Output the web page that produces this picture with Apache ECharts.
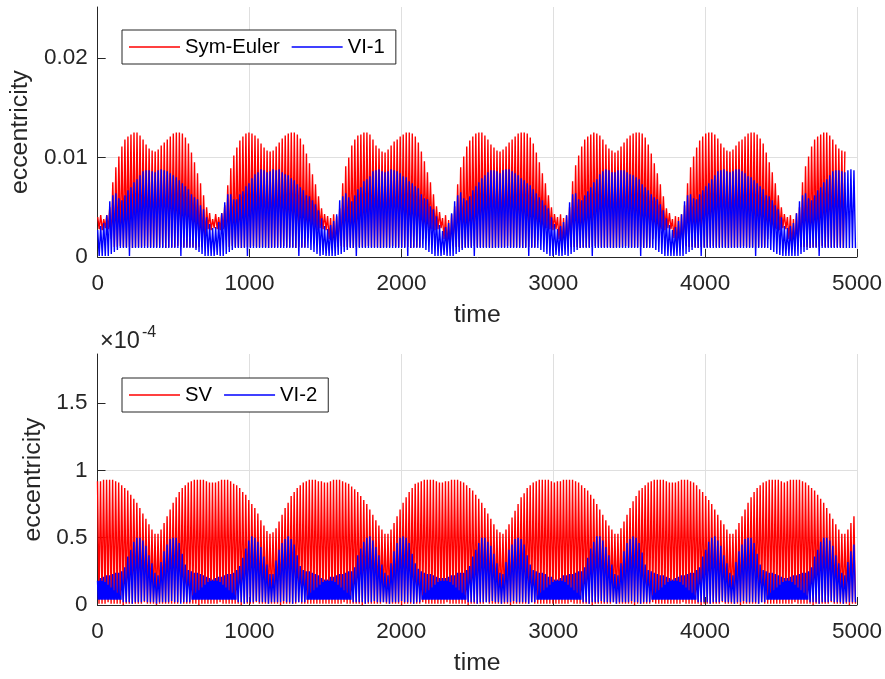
<!DOCTYPE html>
<html>
<head>
<meta charset="utf-8">
<script src="https://cdn.jsdelivr.net/npm/echarts@6/dist/echarts.min.js"></script>
<style>html,body{margin:0;padding:0;background:#fff}#c{width:885px;height:679px}</style>
</head>
<body>
<div id="c"></div>
<script>
// ---- data ----
// top panel, units of 1e-4 (eccentricity), one value per oscillation
const symEulerPeaks = [
40,42,38,42,50,75,90,101,111,118,121,123,125,125,122,118,113,109,107,106,108,112,115,118,121,124,125,125,124,120,114,105,95,84,74,62,50,44,
38,43,40,44,52,72,89,102,110,117,121,124,125,124,122,119,114,110,107,106,107,111,115,119,122,124,125,125,123,119,113,104,94,83,73,61,49,43,
41,39,43,41,49,74,91,100,112,118,122,123,125,125,123,118,112,109,106,105,108,112,116,118,121,123,125,125,124,121,115,106,96,85,75,63,51,45,
39,42,37,43,51,73,90,101,111,117,121,124,125,125,122,118,113,110,107,106,108,111,115,118,121,124,125,125,124,120,114,105,95,84,74,62,50,43,
40,43,39,42,50,76,92,102,111,118,121,123,125,124,122,118,113,109,107,105,107,111,115,119,122,124,125,125,124,120,113,104,94,84,73,61,49,44,
38,41,40,43,52,74,90,101,110,117,121,124,125,125,123,119,114,110,107,106,108,112,116,118,121,124,125,125,123,119,114,105,95,85,74,62,50,43,
40,42,38,44,50,75,91,101,111,118,121,123,125,125,122,118,113,109,107,106,108,112,115];
const symEulerTroughs = [
28,27,29,28,18,10,10,11,10,10,10,9,10,10,10,11,10,10,10,10,10,10,9,10,10,10,11,10,10,10,10,10,9,10,10,18,28,27,
29,28,27,28,17,10,11,10,10,9,10,10,10,11,10,10,10,10,9,10,10,10,10,11,10,10,10,9,10,10,10,19,27,28,
27,29,28,27,18,10,10,10,11,10,10,10,9,10,10,10,10,11,10,10,10,9,10,10,10,11,10,10,10,10,10,9,10,10,10,18,28,29,
28,27,28,29,18,10,10,11,10,10,9,10,10,10,11,10,10,10,10,10,9,10,10,10,10,11,10,10,10,10,9,10,10,10,10,17,28,27,
29,28,27,28,18,11,10,10,10,10,10,9,10,10,10,10,11,10,10,10,10,10,9,10,10,10,11,10,10,10,10,10,9,10,10,18,27,28,
28,27,29,28,19,10,10,10,11,10,10,10,9,10,10,10,10,11,10,10,10,10,9,10,10,10,10,11,10,10,10,9,10,10,10,18,28,27,
28,27,29,28,18,10,10,11,10,10,10,9,10,10,10,11,10,10,10,10,10,10,9];
const vi1Peaks = [
27,31,34,42,56,62,64,59,57,62,67,70,75,78,82,86,87,87,86,85,87,88,87,86,84,82,80,77,74,71,68,63,60,58,52,48,40,33,
29,30,35,44,55,63,63,58,58,63,66,71,74,79,83,85,88,87,85,86,88,87,88,85,83,82,79,77,73,70,67,62,61,57,53,47,39,31,
28,32,36,43,57,61,64,60,56,62,68,70,76,78,81,86,87,88,86,85,86,88,87,86,84,81,80,76,74,71,69,63,59,58,51,48,41,32,
26,30,34,44,56,62,65,59,57,61,67,71,75,79,82,85,87,87,86,84,87,88,88,86,84,82,79,77,74,72,68,64,60,57,52,49,40,33,
28,31,35,42,55,63,64,58,57,62,66,70,75,78,83,86,88,87,85,85,87,87,87,85,83,82,80,78,73,70,67,63,60,58,53,47,39,32,
27,30,36,43,56,62,63,59,58,63,67,71,74,78,82,86,87,88,86,85,86,88,88,86,84,81,80,77,74,71,68,62,61,57,52,48,40,31,
29,31,34,44,56,62,64,59,57,62,67,70,75,78,82,86,87,87,86,85,87,88,87];
const vi1Troughs = [
1,1,1,1,3,5,7,9,9,9,1,9,9,9,9,9,9,9,9,9,9,9,9,9,9,9,9,1,9,9,9,9,7,5,3,1,1,1,
1,2,1,1,3,5,7,9,9,9,9,1,9,9,9,9,9,9,9,9,9,9,9,9,9,9,9,9,1,9,9,9,7,5,3,1,2,1,
1,1,1,2,3,5,7,9,9,1,9,9,9,9,9,9,9,9,9,9,9,9,9,9,9,9,1,9,9,9,9,9,7,5,3,1,1,1,
2,1,1,1,3,5,7,9,9,9,1,9,9,9,9,9,9,9,9,9,9,9,9,9,9,9,9,9,1,9,9,9,7,5,3,1,1,2,
1,1,2,1,3,5,7,9,9,9,9,1,9,9,9,9,9,9,9,9,9,9,9,9,9,9,9,1,9,9,9,9,7,5,3,1,1,1,
1,1,1,1,3,5,7,9,9,1,9,9,9,9,9,9,9,9,9,9,9,9,9,9,9,9,9,1,9,9,9,9,7,5,3,2,1,1,
1,1,1,1,3,5,7,9,9,9,1,9,9,9,9,9,9,9,9,9,9,9,9];
// bottom panel, units of 1e-6 (i.e. hundredths of the 1e-4 axis unit)
const svPeaks = [
92,92,93,93,93,93,92,91,89,87,85,82,79,76,72,68,64,60,56,53,53,56,61,66,71,76,80,84,87,89,91,92,93,93,93,93,92,91,
91,91,92,93,93,93,92,90,89,87,84,82,78,75,72,68,63,59,55,53,54,57,62,67,72,76,81,84,87,89,91,92,93,93,93,92,92,91,
91,92,93,93,93,92,91,90,88,86,84,81,78,75,71,67,63,59,56,53,53,56,61,66,71,76,80,84,87,90,91,92,93,93,93,93,92,91,
91,92,92,93,93,93,92,91,89,87,85,82,79,76,72,68,64,60,56,54,53,56,60,65,70,75,80,83,87,89,91,92,93,93,93,93,92,91,
92,92,93,93,93,93,92,91,89,87,85,82,79,75,71,67,63,59,56,53,53,57,62,67,72,77,81,85,87,89,91,92,93,93,93,93,92,91,
91,91,92,93,93,93,92,91,89,86,84,81,78,75,71,67,63,60,56,53,53,56,61,66,71,76,80,84,87,89,91,92,93,93,93,93,92,91,
92,93,93,93,93,92,91,89,87,85,82,79,76,72,68,64,60,56,53,53,56,61,66];
const svTroughs = [
1,1,1,2,1,1,1,1,0,1,1,1,1,1,1,2,1,1,1,0,1,1,1,1,1,1,1,2,1,1,1,1,1,0,1,1,1,1,
1,1,2,1,1,1,1,1,1,0,1,1,1,1,2,1,1,1,1,1,1,1,0,1,1,1,1,1,2,1,1,1,1,1,1,1,1,1,
1,1,1,1,1,2,1,1,1,1,1,0,1,1,1,1,1,1,2,1,1,1,1,1,0,1,1,1,1,1,1,2,1,1,1,1,1,1,
1,2,1,1,1,1,1,1,0,1,1,1,1,1,2,1,1,1,1,1,1,1,0,1,1,1,1,1,1,2,1,1,1,1,1,1,1,1,
1,1,1,1,2,1,1,1,1,1,1,0,1,1,1,1,1,1,2,1,1,1,1,1,1,0,1,1,1,1,1,2,1,1,1,1,1,1,
1,1,1,2,1,1,1,1,1,0,1,1,1,1,1,1,2,1,1,1,1,1,0,1,1,1,1,1,1,2,1,1,1,1,1,1,1,1,
1,1,2,1,1,1,1,1,0,1,1,1,1,1,2,1,1,1,1,1,0,1,1];
const vi2Peaks = [
18,20,21,22,22,23,24,24,25,28,36,41,47,50,50,48,44,37,31,24,22,32,40,45,49,50,50,46,38,30,26,25,24,24,23,22,21,20,
19,20,21,21,22,23,23,24,26,29,35,42,48,51,50,47,43,36,30,23,23,33,41,46,49,51,49,45,37,29,26,25,25,24,23,22,20,19,
19,21,21,22,23,23,24,25,25,28,37,42,47,50,51,48,43,37,30,24,22,31,40,46,50,51,50,46,38,31,27,25,24,23,23,22,21,20,
20,20,21,22,22,24,24,24,26,29,36,41,46,50,50,47,44,38,31,24,23,32,41,45,49,50,49,45,37,30,26,25,24,24,23,21,21,19,
19,20,22,22,23,23,24,25,25,28,35,42,47,51,51,48,43,37,30,23,22,31,40,46,49,51,50,46,39,30,26,25,24,23,22,22,21,20,
19,20,21,22,22,23,24,24,26,28,36,41,47,50,51,48,44,37,31,24,22,32,40,45,49,50,50,46,38,30,26,25,24,24,23,22,21,20,
20,21,22,22,23,24,24,25,28,36,41,47,50,50,48,44,37,31,24,22,32,40,45];
const vi2Troughs = [
4,4,4,4,4,4,4,4,2,2,2,1,2,2,2,3,2,2,2,1,2,2,2,2,3,2,2,1,2,2,2,4,4,4,4,4,4,4,
4,4,4,4,4,4,4,4,2,2,1,2,2,2,3,2,2,2,1,2,2,2,2,3,2,2,1,2,2,2,2,4,4,4,4,4,4,4,
4,4,4,4,4,4,4,4,2,2,2,2,1,2,2,3,2,2,2,2,1,2,2,2,3,2,2,2,1,2,2,4,4,4,4,4,4,4,
4,4,4,4,4,4,4,4,2,2,2,1,2,2,2,2,3,2,2,1,2,2,2,3,2,2,2,2,1,2,2,4,4,4,4,4,4,4,
4,4,4,4,4,4,4,4,2,2,1,2,2,2,3,2,2,2,2,1,2,2,2,2,3,2,2,1,2,2,2,4,4,4,4,4,4,4,
4,4,4,4,4,4,4,4,2,2,2,2,1,2,2,2,3,2,2,2,1,2,2,3,2,2,2,2,1,2,2,4,4,4,4,4,4,4,
4,4,4,4,4,4,4,2,2,2,1,2,2,2,3,2,2,2,1,2,2,2,2];
// dense low band of VI-2 (0 = not present)
const vi2Band = [
18,18,17,15,13,11,9,7,0,0,0,0,0,0,0,0,0,0,0,0,0,0,0,0,0,0,0,0,0,0,0,7,9,11,13,15,17,18,
18,18,17,15,13,11,9,7,0,0,0,0,0,0,0,0,0,0,0,0,0,0,0,0,0,0,0,0,0,0,0,7,9,11,13,15,17,18,
18,18,17,15,13,11,9,7,0,0,0,0,0,0,0,0,0,0,0,0,0,0,0,0,0,0,0,0,0,0,0,7,9,11,13,15,17,18,
18,18,17,15,13,11,9,7,0,0,0,0,0,0,0,0,0,0,0,0,0,0,0,0,0,0,0,0,0,0,0,7,9,11,13,15,17,18,
18,18,17,15,13,11,9,7,0,0,0,0,0,0,0,0,0,0,0,0,0,0,0,0,0,0,0,0,0,0,0,7,9,11,13,15,17,18,
18,18,17,15,13,11,9,7,0,0,0,0,0,0,0,0,0,0,0,0,0,0,0,0,0,0,0,0,0,0,0,7,9,11,13,15,17,18,
18,17,15,13,11,9,7,0,0,0,0,0,0,0,0,0,0,0,0,0,0,0,0];
const timeEnd = 5000;
const xTicks = [0,1000,2000,3000,4000,5000];
const yTicksTop = [0,0.01,0.02];
const yTicksBottom = [0,0.5,1,1.5];
const legendTop = ['Sym-Euler','VI-1'];
const legendBottom = ['SV','VI-2'];

// ---- build series ----
const nOsc = symEulerPeaks.length;
const dt = timeEnd / nOsc;
function zigzag(P, T, s) {
  const out = [];
  for (let k = 0; k < P.length; k++) {
    out.push([k * dt, P[k] * s]);
    out.push([(k + 0.5) * dt, T[k] * s]);
  }
  return out;
}
function zigzagBand(P, T, B, s) {
  const out = [];
  for (let k = 0; k < P.length; k++) {
    out.push([k * dt, P[k] * s]);
    if (B[k] > 0) {
      out.push([(k + 0.25) * dt, T[k] * s]);
      out.push([(k + 0.5) * dt, B[k] * s]);
      out.push([(k + 0.75) * dt, T[k] * s]);
    } else {
      out.push([(k + 0.5) * dt, T[k] * s]);
    }
  }
  return out;
}

const FF = '"Liberation Sans", Arial, Helvetica, sans-serif';
const AX = '#262626';
const GRIDC = '#dfdfdf';
const fmt = v => String(Math.round(v * 1e6) / 1e6);

function xAxisCfg(gi) {
  return {
    type: 'value', gridIndex: gi, min: 0, max: timeEnd, interval: 1000,
    name: 'time', nameLocation: 'middle', nameGap: 46,
    nameTextStyle: {fontSize: 24.75, color: AX, fontFamily: FF},
    axisLine: {show: true, onZero: false, lineStyle: {color: AX, width: 1}},
    axisTick: {show: true, inside: true, length: 8, lineStyle: {color: AX}},
    axisLabel: {fontSize: 22.5, color: AX, fontFamily: FF, margin: 15, formatter: fmt},
    splitLine: {show: true, lineStyle: {color: GRIDC, width: 1}}
  };
}
function yAxisCfg(gi, max, interval, ticks, gap) {
  return {
    type: 'value', gridIndex: gi, min: 0, max: max, interval: interval,
    name: 'eccentricity', nameLocation: 'middle', nameGap: gap,
    nameTextStyle: {fontSize: 24.75, color: AX, fontFamily: FF},
    axisLine: {show: true, lineStyle: {color: AX, width: 1}},
    axisTick: {show: true, inside: true, length: 8, lineStyle: {color: AX}, customValues: ticks},
    axisLabel: {fontSize: 22.5, color: AX, fontFamily: FF, margin: 10, customValues: ticks, formatter: fmt},
    splitLine: {show: true, showMaxLine: false, lineStyle: {color: GRIDC, width: 1}}
  };
}
function legendCfg(names, top) {
  return {
    data: names, left: 122, top: top, orient: 'horizontal',
    icon: 'rect', itemWidth: 51, itemHeight: 1.5, itemGap: 12,
    padding: [7, 11, 7, 7],
    borderColor: AX, borderWidth: 1, backgroundColor: '#fff',
    textStyle: {fontSize: 20.3, color: '#000', fontFamily: FF}
  };
}
function lineSeries(name, data, color, xi, yi) {
  return {
    type: 'line', name: name, data: data, xAxisIndex: xi, yAxisIndex: yi,
    symbol: 'none', showSymbol: false,
    lineStyle: {color: color, width: 1.4}, itemStyle: {color: color},
    emphasis: {disabled: true}, animation: false, z: 2
  };
}

const chart = echarts.init(document.getElementById('c'), null, {renderer: 'canvas'});
chart.setOption({
  backgroundColor: '#fff',
  animation: false,
  grid: [
    {left: 97.5, top: 7, width: 760, height: 250, containLabel: false},
    {left: 97.5, top: 354, width: 760, height: 251, containLabel: false}
  ],
  xAxis: [xAxisCfg(0), xAxisCfg(1)],
  yAxis: [
    yAxisCfg(0, 0.0251, 0.01, yTicksTop, 57),
    yAxisCfg(1, 1.865, 0.5, yTicksBottom, 44)
  ],
  legend: [legendCfg(legendTop, 30), legendCfg(legendBottom, 378)],
  series: [
    lineSeries('Sym-Euler', zigzag(symEulerPeaks, symEulerTroughs, 1e-4), '#ff0000', 0, 0),
    lineSeries('VI-1', zigzag(vi1Peaks, vi1Troughs, 1e-4), '#0000ff', 0, 0),
    lineSeries('SV', zigzag(svPeaks, svTroughs, 0.01), '#ff0000', 1, 1),
    lineSeries('VI-2', zigzagBand(vi2Peaks, vi2Troughs, vi2Band, 0.01), '#0000ff', 1, 1)
  ],
  graphic: [
    {type: 'text', style: {text: '×10', x: 100, y: 342, fontSize: 23.5, fontFamily: FF, fill: AX, verticalAlign: 'middle', align: 'left'}},
    {type: 'text', style: {text: '-4', x: 142, y: 333, fontSize: 16, fontFamily: FF, fill: AX, verticalAlign: 'middle', align: 'left'}}
  ]
});
</script>
</body>
</html>
